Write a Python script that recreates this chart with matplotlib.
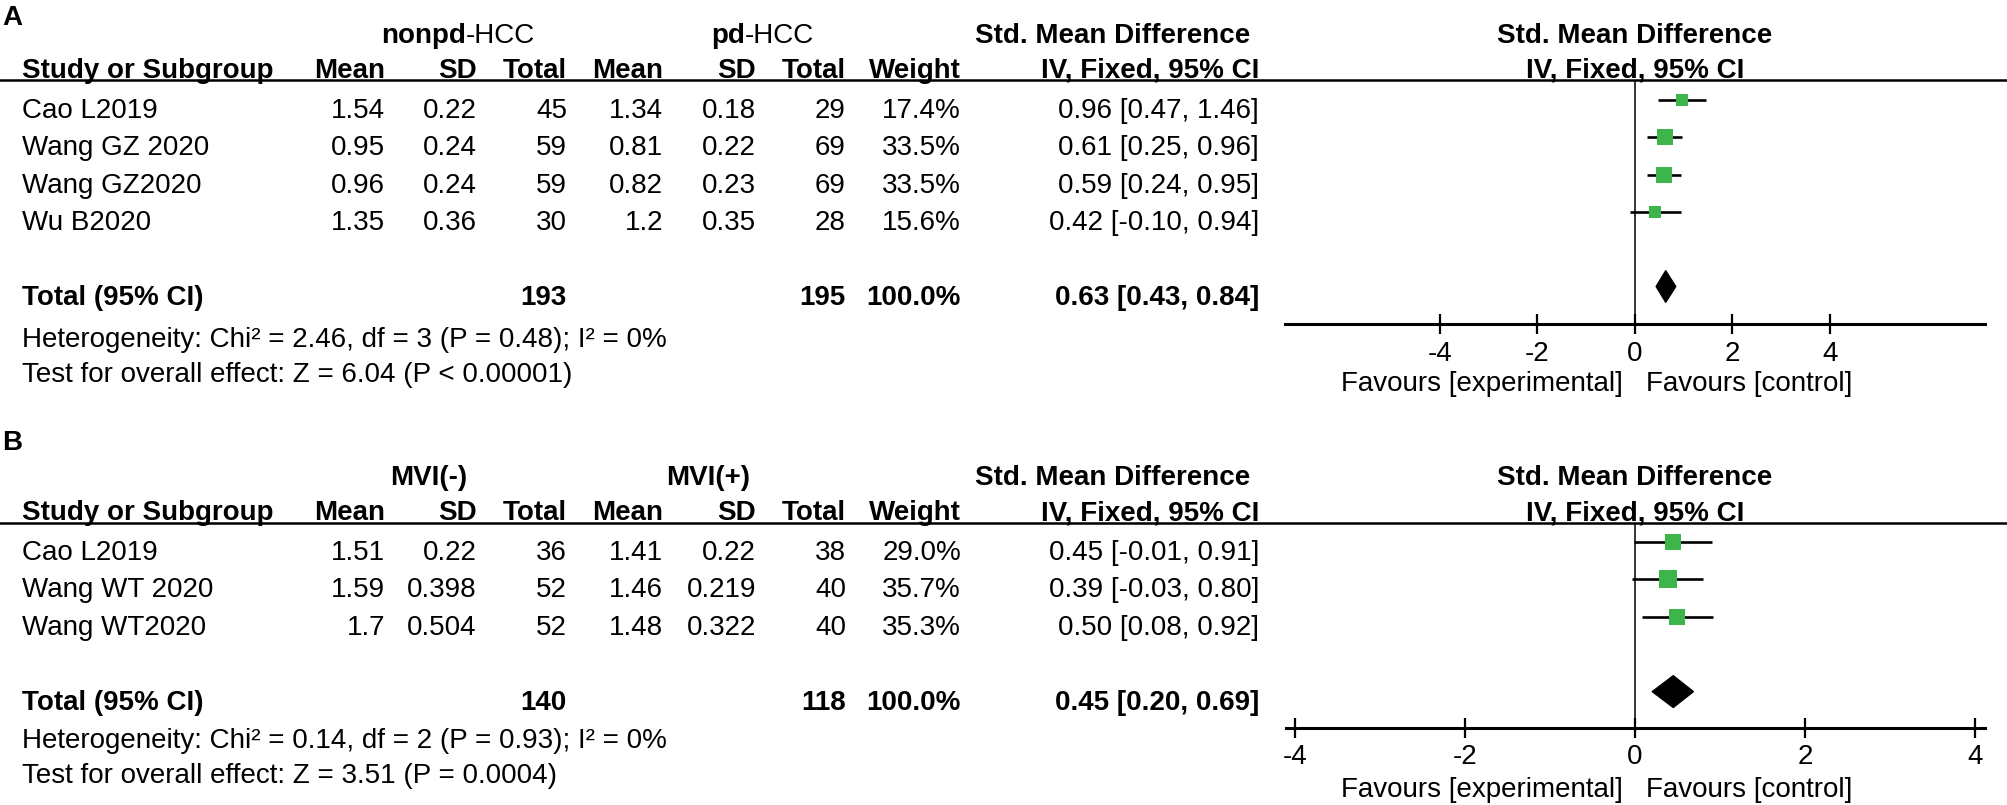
import matplotlib
matplotlib.use("Agg")
import matplotlib.pyplot as plt
from matplotlib.patches import Polygon
from matplotlib.transforms import blended_transform_factory

plt.rcParams['font.family'] = ['Liberation Sans', 'DejaVu Sans']

# ---------------- Data: panel A ----------------
a_studies = ["Cao L2019", "Wang GZ 2020", "Wang GZ2020", "Wu B2020"]
a_mean1 = [1.54, 0.95, 0.96, 1.35]
a_sd1 = [0.22, 0.24, 0.24, 0.36]
a_n1 = [45, 59, 59, 30]
a_mean2 = [1.34, 0.81, 0.82, 1.2]
a_sd2 = [0.18, 0.22, 0.23, 0.35]
a_n2 = [29, 69, 69, 28]
a_weight = [17.4, 33.5, 33.5, 15.6]
a_smd = [0.96, 0.61, 0.59, 0.42]
a_lo = [0.47, 0.25, 0.24, -0.10]
a_hi = [1.46, 0.96, 0.95, 0.94]
a_total_n = [193, 195]
a_total_ci = [0.63, 0.43, 0.84]
a_groups = [("nonpd", "-HCC"), ("pd", "-HCC")]
a_het = "Heterogeneity: Chi² = 2.46, df = 3 (P = 0.48); I² = 0%"
a_test = "Test for overall effect: Z = 6.04 (P < 0.00001)"
a_ticks = [-4, -2, 0, 2, 4]

# ---------------- Data: panel B ----------------
b_studies = ["Cao L2019", "Wang WT 2020", "Wang WT2020"]
b_mean1 = [1.51, 1.59, 1.7]
b_sd1 = [0.22, 0.398, 0.504]
b_n1 = [36, 52, 52]
b_mean2 = [1.41, 1.46, 1.48]
b_sd2 = [0.22, 0.219, 0.322]
b_n2 = [38, 40, 40]
b_weight = [29.0, 35.7, 35.3]
b_smd = [0.45, 0.39, 0.50]
b_lo = [-0.01, -0.03, 0.08]
b_hi = [0.91, 0.80, 0.92]
b_total_n = [140, 118]
b_total_ci = [0.45, 0.20, 0.69]
b_groups = [("MVI(-)", ""), ("MVI(+)", "")]
b_het = "Heterogeneity: Chi² = 0.14, df = 2 (P = 0.93); I² = 0%"
b_test = "Test for overall effect: Z = 3.51 (P = 0.0004)"
b_ticks = [-4, -2, 0, 2, 4]

col_headers = ["Mean", "SD", "Total", "Mean", "SD", "Total", "Weight"]

W, H = 2008, 805
FS = 20
GREEN = '#3DB54A'

fig = plt.figure(figsize=(W / 100, H / 100), dpi=100)
axT = fig.add_axes([0, 0, 1, 1])
axT.set_xlim(0, W)
axT.set_ylim(H, 0)
axT.axis('off')

COLS = [385, 477, 567, 663, 756, 846, 961]
CI_R = 1259
NAME_X = 22
CAP = 10  # half cap height in px (center -> baseline)


def ci_str(e, lo, hi):
    return f"{e:.2f} [{lo:.2f}, {hi:.2f}]"


def panel(letter, letter_y, hdr1_y, hdr2_y, line_y, row0, step, het_y, test_y,
          groups, group_x, studies, mean1, sd1, n1, mean2, sd2, n2, weight,
          smd, lo, hi, total_n, total_ci, het, test, ticks,
          ax_box, xlim, ylim, fav_off, tick_pad):
    axT.text(2, letter_y + CAP, letter, ha='left', va='baseline', fontsize=FS, weight='bold')
    # group headers
    for (bold_part, reg_part), gx in zip(groups, group_x):
        t1 = axT.text(gx, hdr1_y + CAP, bold_part, ha='left', va='baseline', fontsize=FS, weight='bold')
        if reg_part:
            axT.annotate(reg_part, xy=(1, 0), xycoords=t1, ha='left', va='bottom', fontsize=FS)
    axT.text(1250, hdr1_y + CAP, "Std. Mean Difference", ha='right', va='baseline', fontsize=FS, weight='bold')
    # second header row
    axT.text(NAME_X, hdr2_y + CAP, "Study or Subgroup", ha='left', va='baseline', fontsize=FS, weight='bold')
    for h, cx in zip(col_headers, COLS):
        axT.text(cx, hdr2_y + CAP, h, ha='right', va='baseline', fontsize=FS, weight='bold')
    axT.text(CI_R, hdr2_y + CAP, "IV, Fixed, 95% CI", ha='right', va='baseline', fontsize=FS, weight='bold')
    axT.axhline(line_y, color='black', lw=1.8)
    # study rows
    for i, s in enumerate(studies):
        y = row0 + step * i + CAP
        axT.text(NAME_X, y, s, ha='left', va='baseline', fontsize=FS)
        vals = [str(mean1[i]), str(sd1[i]), str(n1[i]), str(mean2[i]), str(sd2[i]), str(n2[i]),
                f"{weight[i]:.1f}%"]
        for v, cx in zip(vals, COLS):
            axT.text(cx, y, v, ha='right', va='baseline', fontsize=FS)
        axT.text(CI_R, y, ci_str(smd[i], lo[i], hi[i]), ha='right', va='baseline', fontsize=FS)
    # total row
    n = len(studies)
    ty = row0 + step * (n + 1) + CAP
    axT.text(NAME_X, ty, "Total (95% CI)", ha='left', va='baseline', fontsize=FS, weight='bold')
    axT.text(COLS[2], ty, str(total_n[0]), ha='right', va='baseline', fontsize=FS, weight='bold')
    axT.text(COLS[5], ty, str(total_n[1]), ha='right', va='baseline', fontsize=FS, weight='bold')
    axT.text(COLS[6], ty, f"{sum(weight):.1f}%", ha='right', va='baseline', fontsize=FS, weight='bold')
    axT.text(CI_R, ty, ci_str(*total_ci), ha='right', va='baseline', fontsize=FS, weight='bold')
    axT.text(NAME_X, het_y + CAP, het, ha='left', va='baseline', fontsize=FS)
    axT.text(NAME_X, test_y + CAP, test, ha='left', va='baseline', fontsize=FS)

    # forest plot
    l, t, r, b = ax_box
    axF = fig.add_axes([l / W, 1 - b / H, (r - l) / W, (b - t) / H])
    axF.patch.set_alpha(0)
    axF.set_xlim(*xlim)
    axF.set_ylim(*ylim)
    for sp in ['top', 'left', 'right']:
        axF.spines[sp].set_visible(False)
    axF.spines['bottom'].set_linewidth(2.2)
    axF.set_xticks(ticks)
    axF.set_xticklabels([str(v) for v in ticks])
    axF.tick_params(axis='x', direction='inout', length=14.5, width=1.6, pad=tick_pad, labelsize=FS)
    axF.set_yticks([])
    axF.axvline(0, color='black', lw=1.1)
    for i in range(n):
        axF.plot([lo[i], hi[i]], [i, i], color='black', lw=1.9, solid_capstyle='butt', zorder=3)
        axF.plot([smd[i]], [i], marker='s', ms=2.05 * weight[i] ** 0.5, color=GREEN, mew=0,
                 linestyle='none', zorder=4)
    R = n + 1
    hh = 0.43
    e, clo, chi = total_ci
    axF.add_patch(Polygon([(clo, R), (e, R - hh), (chi, R), (e, R + hh)], closed=True,
                          facecolor='black', edgecolor='black', lw=0.8, zorder=4))
    trans = blended_transform_factory(axF.transData, axT.transData)
    axT.text(0, hdr1_y + CAP, "Std. Mean Difference", transform=trans, ha='center', va='baseline',
             fontsize=FS, weight='bold')
    axT.text(0, hdr2_y + CAP, "IV, Fixed, 95% CI", transform=trans, ha='center', va='baseline',
             fontsize=FS, weight='bold')
    axF.annotate("Favours [experimental]", xy=(0, 0), xycoords=('data', 'axes fraction'),
                 xytext=(-9, -fav_off), textcoords='offset points', ha='right', va='center',
                 fontsize=FS, annotation_clip=False)
    axF.annotate("Favours [control]", xy=(0, 0), xycoords=('data', 'axes fraction'),
                 xytext=(8, -fav_off), textcoords='offset points', ha='left', va='center',
                 fontsize=FS, annotation_clip=False)


# Panel A: zero at x=1635, 48.75 px per unit; rows 100 + 37.3*r
panel("A", 15, 33, 68, 80, 108, 37.3, 337, 372,
      a_groups, [381, 711], a_studies, a_mean1, a_sd1, a_n1, a_mean2, a_sd2, a_n2, a_weight,
      a_smd, a_lo, a_hi, a_total_n, a_total_ci, a_het, a_test, a_ticks,
      (1285, 80, 1985, 324), (-350 / 48.75, 350 / 48.75), (6.005, -0.536), 43, 5)

# Panel B: zero at x=1635, 85 px per unit; rows 542 + 37.4*r
panel("B", 440, 475, 510, 523, 550, 37.4, 738, 773,
      b_groups, [390, 666], b_studies, b_mean1, b_sd1, b_n1, b_mean2, b_sd2, b_n2, b_weight,
      b_smd, b_lo, b_hi, b_total_n, b_total_ci, b_het, b_test, b_ticks,
      (1286, 523, 1985, 728), (-349 / 85, 350 / 85), (4.973, -0.508), 44.5, 4)

fig.savefig("out.png", dpi=100)
